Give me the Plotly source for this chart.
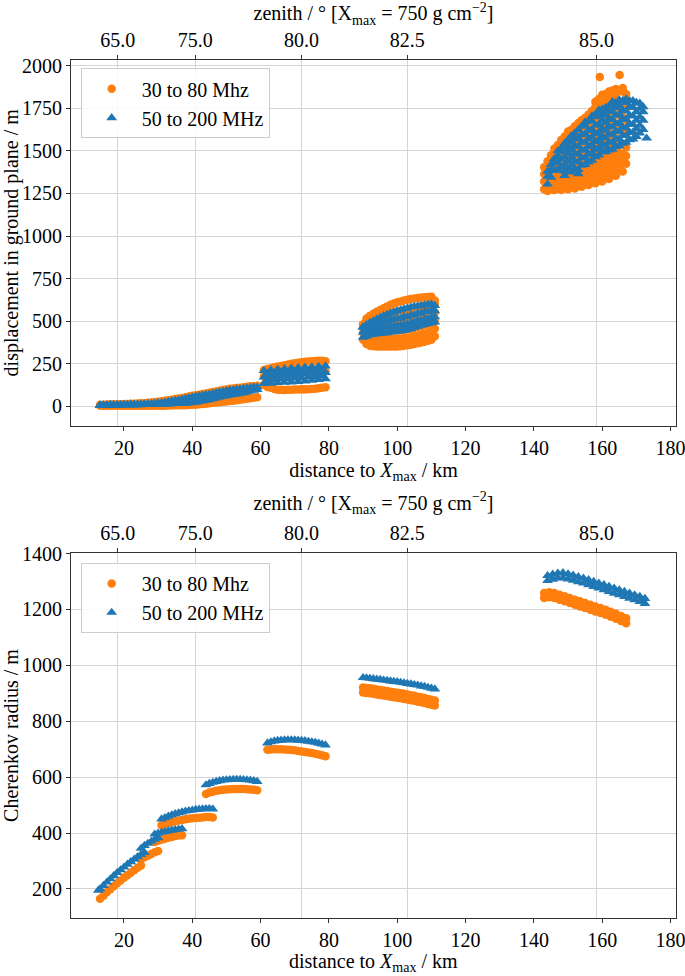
import plotly.graph_objects as go

# ---------------- axis tick data ----------------
zenith_tick_labels = ["65.0", "75.0", "80.0", "82.5", "85.0"]
zenith_tick_distance_km = [18.2, 40.9, 71.95, 102.9, 158.3]

# ================= TOP PANEL: displacement in ground plane =================
# cluster 1 (13-59 km)
disp_c1_x = [13, 15, 17, 19, 21, 23, 25, 27, 29, 31, 33, 35, 37, 39, 41, 43, 45, 47, 49, 51, 53, 55, 57, 59]
disp_c1_blue_lo = [3, 3, 4, 4, 5, 6, 7, 8, 9, 10, 12, 14, 15, 17, 22, 30, 37, 47, 57, 64, 70, 77, 87, 97]
disp_c1_blue_hi = [6, 6, 7, 8, 9, 10, 11, 13, 16, 20, 26, 33, 40, 48, 56, 63, 70, 78, 86, 93, 98, 103, 108, 111]
disp_c1_orange_lo = [2, 2, 2, 2, 2, 2, 2, 2, 2, 2, 3, 4, 5, 6, 8, 12, 17, 21, 25, 29, 34, 40, 46, 52]
disp_c1_orange_hi = [8, 9, 10, 11, 12, 14, 16, 19, 23, 28, 34, 41, 48, 56, 64, 71, 78, 86, 94, 101, 106, 111, 116, 119]
disp_c1_x_b = [14, 16, 18, 20, 22, 24, 26, 28, 30, 32, 34, 36, 38, 40, 42, 44, 46, 48, 50, 52, 54, 56, 58]
disp_c1_blue_lo_b = [3, 4, 4, 5, 6, 7, 8, 8, 10, 11, 13, 14, 16, 20, 26, 34, 42, 52, 60, 67, 74, 82, 92]
disp_c1_blue_hi_b = [6, 7, 8, 9, 10, 11, 12, 14, 18, 23, 29, 36, 44, 52, 60, 67, 74, 82, 90, 96, 100, 106, 110]
disp_c1_orange_lo_b = [2, 2, 2, 2, 2, 2, 2, 2, 2, 2, 3, 4, 5, 7, 10, 14, 19, 23, 27, 31, 37, 43, 49]
disp_c1_orange_hi_b = [8, 10, 10, 12, 13, 15, 17, 21, 25, 31, 37, 44, 52, 60, 67, 74, 82, 90, 97, 103, 108, 113, 117]

# cluster 2 (61-79 km)
disp_c2_x = [61, 63, 65, 67, 69, 71, 73, 75, 77, 79]
disp_c2_blue_lo = [132, 134, 137, 139, 141, 144, 147, 151, 155, 160]
disp_c2_blue_mid = [170, 174, 177, 180, 183, 186, 189, 192, 195, 197]
disp_c2_blue_hi = [208, 212, 216, 219, 222, 225, 228, 230, 233, 235]
disp_c2_orange_lo = [125, 108, 96, 95, 96, 97, 98, 100, 104, 110]
disp_c2_orange_mid = [175, 180, 185, 188, 190, 195, 198, 200, 203, 205]
disp_c2_orange_hi = [212, 222, 232, 240, 248, 255, 260, 264, 266, 264]
disp_c2_x_b = [62, 64, 66, 68, 70, 72, 74, 76, 78]
disp_c2_blue_lo_b = [151, 155, 158, 161, 164, 167, 170, 173, 177]
disp_c2_blue_hi_b = [189, 193, 197, 200, 203, 206, 209, 212, 215]
disp_c2_orange_lo_b = [112, 100, 96, 96, 97, 98, 99, 102, 107]
disp_c2_orange_hi_b = [218, 228, 236, 244, 252, 258, 262, 265, 266]

# cluster 3 (90-111 km)
disp_c3_x = [90, 92, 94, 96, 98, 100, 102, 104, 106, 108, 110, 111]
disp_c3_blue_r1 = [404, 419, 424, 429, 434, 439, 444, 454, 469, 479, 489, 494]
disp_c3_blue_r2 = [435, 450, 455, 462, 468, 472, 478, 488, 500, 510, 520, 525]
disp_c3_blue_r3 = [462, 480, 488, 500, 505, 515, 525, 535, 545, 555, 560, 560]
disp_c3_blue_r4 = [466, 491, 511, 531, 546, 560, 571, 581, 588, 594, 600, 591]
disp_c3_orange_r1 = [390, 355, 350, 350, 350, 350, 355, 360, 370, 378, 390, 410]
disp_c3_orange_r2 = [430, 400, 395, 395, 395, 395, 400, 405, 415, 425, 435, 455]
disp_c3_orange_r3 = [465, 445, 440, 440, 445, 445, 450, 455, 465, 475, 485, 500]
disp_c3_orange_r4 = [480, 490, 490, 490, 495, 500, 505, 510, 520, 530, 540, 550]
disp_c3_orange_r5 = [480, 530, 535, 540, 545, 555, 560, 570, 580, 590, 600, 600]
disp_c3_orange_r6 = [480, 530, 555, 575, 595, 610, 620, 630, 635, 640, 642, 620]
disp_c3_x_b = [91, 93, 95, 97, 99, 101, 103, 105, 107, 109]
disp_c3_blue_r1_b = [410, 421, 426, 431, 436, 441, 449, 461, 474, 484]
disp_c3_blue_r2_b = [440, 452, 458, 465, 470, 475, 483, 494, 505, 515]
disp_c3_blue_r3_b = [470, 485, 495, 500, 510, 515, 525, 535, 545, 555]
disp_c3_blue_r4_b = [478, 500, 520, 538, 553, 565, 576, 585, 591, 597]
disp_c3_orange_r1_b = [365, 352, 350, 350, 350, 352, 357, 365, 374, 384]
disp_c3_orange_r2_b = [410, 397, 395, 395, 395, 397, 402, 410, 420, 430]
disp_c3_orange_r3_b = [450, 442, 440, 442, 445, 447, 452, 460, 470, 480]
disp_c3_orange_r4_b = [488, 490, 490, 492, 498, 502, 508, 515, 525, 535]
disp_c3_orange_r5_b = [500, 532, 538, 543, 550, 558, 565, 575, 585, 595]
disp_c3_orange_r6_b = [515, 543, 565, 585, 603, 615, 625, 633, 638, 641]

# cluster 4 (143-173 km), (distance km, displacement m)
disp_c4_blue = [
    (144, 1305), (144, 1350), (144, 1380),
    (146, 1385), (146, 1430), (146, 1455),
    (148, 1405), (148, 1450), (148, 1495), (148, 1515), (149, 1355),
    (150, 1395), (150, 1440), (150, 1485), (150, 1525), (150, 1565),
    (152, 1395), (152, 1440), (152, 1485), (152, 1530), (152, 1570), (152, 1605), (153, 1365),
    (154, 1415), (154, 1460), (154, 1505), (154, 1550), (154, 1595), (154, 1645),
    (156, 1435), (156, 1480), (156, 1525), (156, 1570), (156, 1620), (156, 1675),
    (158, 1465), (158, 1510), (158, 1555), (158, 1600), (158, 1650), (158, 1700), (158, 1715),
    (160, 1495), (160, 1540), (160, 1585), (160, 1630), (160, 1680), (160, 1720), (160, 1745),
    (162, 1505), (162, 1550), (162, 1600), (162, 1645), (162, 1690), (162, 1735), (162, 1765),
    (164, 1525), (164, 1570), (164, 1615), (164, 1660), (164, 1710), (164, 1755), (164, 1785),
    (166, 1545), (166, 1590), (166, 1640), (166, 1690), (166, 1740), (166, 1795),
    (168, 1565), (168, 1610), (168, 1660), (168, 1710), (168, 1760), (168, 1795),
    (170, 1585), (170, 1630), (170, 1680), (170, 1730), (170, 1785),
    (172, 1625), (172, 1680), (172, 1730), (172, 1760),
    (173, 1575),
]
disp_c4_blue_b = [
    (145, 1345), (145, 1390), (145, 1420),
    (147, 1390), (147, 1430), (147, 1470), (147, 1500),
    (149, 1380), (149, 1420), (149, 1465), (149, 1510), (149, 1545),
    (151, 1375), (151, 1415), (151, 1460), (151, 1505), (151, 1550), (151, 1590),
    (153, 1390), (153, 1435), (153, 1480), (153, 1525), (153, 1575), (153, 1625),
    (155, 1420), (155, 1460), (155, 1505), (155, 1550), (155, 1600), (155, 1650), (155, 1670),
    (157, 1445), (157, 1490), (157, 1535), (157, 1580), (157, 1625), (157, 1675), (157, 1705),
    (159, 1475), (159, 1520), (159, 1565), (159, 1610), (159, 1655), (159, 1705), (159, 1740),
    (161, 1495), (161, 1530), (161, 1575), (161, 1620), (161, 1665), (161, 1710), (161, 1755),
    (163, 1510), (163, 1550), (163, 1595), (163, 1640), (163, 1685), (163, 1730), (163, 1775), (163, 1790),
    (165, 1530), (165, 1570), (165, 1615), (165, 1665), (165, 1715), (165, 1765), (165, 1800),
    (167, 1550), (167, 1590), (167, 1635), (167, 1685), (167, 1735), (167, 1785), (167, 1805),
    (169, 1570), (169, 1610), (169, 1655), (169, 1705), (169, 1755), (169, 1795),
    (171, 1605), (171, 1650), (171, 1700), (171, 1750), (171, 1780),
]
disp_c4_orange = [
    (143, 1275), (143, 1320), (143, 1365), (143, 1405),
    (145, 1275), (145, 1320), (145, 1365), (145, 1410), (145, 1455), (145, 1475),
    (147, 1280), (147, 1325), (147, 1370), (147, 1420), (147, 1470), (147, 1510), (147, 1535),
    (149, 1285), (149, 1330), (149, 1375), (149, 1420), (149, 1470), (149, 1520), (149, 1565), (149, 1585),
    (151, 1290), (151, 1335), (151, 1380), (151, 1430), (151, 1480), (151, 1530), (151, 1580), (151, 1625),
    (153, 1295), (153, 1340), (153, 1385), (153, 1440), (153, 1500), (153, 1560), (153, 1620), (153, 1665),
    (155, 1305), (155, 1350), (155, 1395), (155, 1450), (155, 1520), (155, 1590), (155, 1650), (155, 1695),
    (157, 1315), (157, 1360), (157, 1405), (157, 1460), (157, 1540), (157, 1620), (157, 1690), (157, 1735),
    (159, 1325), (159, 1370), (159, 1420), (159, 1480), (159, 1560), (159, 1640), (159, 1720), (159, 1780),
    (159, 1805), (159.3, 1935),
    (161, 1345), (161, 1390), (161, 1440), (161, 1500), (161, 1580), (161, 1660), (161, 1740), (161, 1800), (161, 1835),
    (163, 1365), (163, 1410), (163, 1460), (163, 1520), (163, 1600), (163, 1680), (163, 1760), (163, 1820), (163, 1855),
    (165, 1395), (165, 1440), (165, 1490), (165, 1550), (165, 1630), (165, 1710), (165, 1790), (165, 1855), (165.1, 1947),
    (167, 1425), (167, 1470), (167, 1520), (167, 1600), (167, 1680), (167, 1760), (167, 1835),
]
disp_c4_orange_b = [
    (144, 1265), (144, 1300), (144, 1345), (144, 1390), (144, 1440),
    (146, 1270), (146, 1305), (146, 1350), (146, 1395), (146, 1440), (146, 1490), (146, 1515),
    (148, 1270), (148, 1305), (148, 1350), (148, 1395), (148, 1445), (148, 1495), (148, 1545), (148, 1565),
    (150, 1275), (150, 1310), (150, 1355), (150, 1400), (150, 1450), (150, 1500), (150, 1550), (150, 1600), (150, 1615),
    (152, 1280), (152, 1315), (152, 1360), (152, 1410), (152, 1460), (152, 1530), (152, 1600), (152, 1645),
    (154, 1290), (154, 1325), (154, 1370), (154, 1420), (154, 1480), (154, 1560), (154, 1640), (154, 1680),
    (156, 1300), (156, 1335), (156, 1380), (156, 1430), (156, 1500), (156, 1580), (156, 1660), (156, 1715),
    (158, 1310), (158, 1345), (158, 1390), (158, 1440), (158, 1520), (158, 1600), (158, 1690), (158, 1760), (158, 1790),
    (160, 1320), (160, 1360), (160, 1405), (160, 1460), (160, 1540), (160, 1620), (160, 1700), (160, 1780), (160, 1830),
    (162, 1335), (162, 1380), (162, 1425), (162, 1480), (162, 1560), (162, 1640), (162, 1720), (162, 1800), (162, 1850),
    (164, 1355), (164, 1400), (164, 1450), (164, 1500), (164, 1580), (164, 1660), (164, 1740), (164, 1820), (164, 1865),
    (166, 1380), (166, 1430), (166, 1480), (166, 1540), (166, 1620), (166, 1700), (166, 1780), (166, 1850), (166, 1870),
]

# ================= BOTTOM PANEL: Cherenkov radius =================
cher_a_orange_x = [13, 14, 15, 16, 17, 18, 19, 20, 21, 22, 23, 24, 25]
cher_a_orange_y = [165, 176, 188, 199, 210, 220, 230, 240, 249, 258, 267, 276, 284]
cher_b_orange_x = [25, 26, 27, 28, 29, 30]
cher_b_orange_y = [306, 313, 319, 325, 331, 336]
cher_c_orange_x = [29, 30, 31, 32, 33, 34, 35, 36, 37]
cher_c_orange_y = [368, 372, 376, 380, 383, 386, 389, 391, 392]
cher_d_orange_x = [31, 32, 33, 34, 35, 36, 37, 38, 39, 40, 41, 42, 43, 44, 45, 46]
cher_d_orange_y = [428, 432, 436, 439, 442, 445, 447, 449, 451, 453, 454, 455, 456, 457, 457, 456]
cher_e_orange_x = [44, 45, 46, 47, 48, 49, 50, 51, 52, 53, 54, 55, 56, 57, 58, 59]
cher_e_orange_y = [540, 545, 548, 551, 553, 555, 556, 557, 558, 558, 558, 558, 557, 556, 555, 553]
cher_f_orange_x = [62, 63, 64, 65, 66, 67, 68, 69, 70, 71, 72, 73, 74, 75, 76, 77, 78, 79]
cher_f_orange_y = [698, 699, 700, 700, 700, 699, 698, 697, 696, 694, 692, 690, 688, 686, 684, 681, 678, 675]
cher_g_x = [90, 91, 92, 93, 94, 95, 96, 97, 98, 99, 100, 101, 102, 103, 104, 105, 106, 107, 108, 109, 110, 111]
cher_g_orange_hi = [921, 919, 918, 916, 914, 912, 910, 908, 906, 904, 902, 900, 898, 896, 893, 891, 888, 886, 883, 880, 877, 874]
cher_g_orange_lo = [903, 901, 900, 898, 896, 894, 892, 890, 888, 886, 884, 882, 880, 878, 875, 873, 870, 868, 865, 862, 859, 856]
cher_h_orange_x = [143, 144.5, 146, 147.5, 149, 150.5, 152, 153.5, 155, 156.5, 158, 159.5, 161, 162.5, 164, 165.5, 167]
cher_h_orange_hi = [1259, 1262, 1259, 1253, 1247, 1241, 1235, 1229, 1223, 1217, 1211, 1205, 1199, 1192, 1185, 1177, 1169]
cher_h_orange_lo = [1241, 1244, 1241, 1235, 1229, 1223, 1217, 1211, 1205, 1199, 1193, 1187, 1181, 1174, 1167, 1159, 1151]

cher_a_blue_x = [12.5, 13, 14, 15, 16, 17, 18, 19, 20, 21, 22, 23, 24, 25, 26]
cher_a_blue_y = [195, 200, 212, 224, 236, 247, 258, 268, 278, 288, 297, 306, 315, 323, 330]
cher_b_blue_x = [25, 26, 27, 28, 29, 30]
cher_b_blue_y = [345, 355, 363, 370, 377, 383]
cher_c_blue_x = [29, 30, 31, 32, 33, 34, 35, 36, 37]
cher_c_blue_y = [396, 399, 402, 405, 408, 410, 412, 414, 415]
cher_d_blue_x = [31, 32, 33, 34, 35, 36, 37, 38, 39, 40, 41, 42, 43, 44, 45, 46]
cher_d_blue_y = [450, 455, 460, 465, 469, 472, 475, 478, 480, 482, 484, 485, 486, 487, 487, 486]
cher_e_blue_x = [44, 45, 46, 47, 48, 49, 50, 51, 52, 53, 54, 55, 56, 57, 58, 59]
cher_e_blue_y = [572, 577, 581, 584, 587, 589, 590, 591, 592, 592, 592, 591, 590, 589, 587, 584]
cher_f_blue_x = [62, 63, 64, 65, 66, 67, 68, 69, 70, 71, 72, 73, 74, 75, 76, 77, 78, 79]
cher_f_blue_y = [722, 726, 729, 731, 732, 733, 733, 733, 733, 732, 731, 730, 728, 726, 724, 721, 718, 715]
cher_g_blue_y = [956, 955, 953, 952, 950, 949, 947, 946, 944, 942, 941, 939, 937, 935, 933, 931, 929, 926, 924, 921, 918, 915]
cher_h_blue_x = [144, 145.5, 147, 148.5, 150, 151.5, 153, 154.5, 156, 157.5, 159, 160.5, 162, 163.5, 165, 166.5, 168, 169.5, 171, 172.5]
cher_h_blue_hi = [1321, 1326, 1330, 1331, 1327, 1322, 1317, 1312, 1306, 1300, 1294, 1288, 1282, 1276, 1270, 1264, 1258, 1252, 1246, 1239]
cher_h_blue_lo = [1303, 1308, 1312, 1313, 1309, 1304, 1299, 1294, 1288, 1282, 1276, 1270, 1264, 1258, 1252, 1246, 1240, 1234, 1228, 1221]

# ---------------- assemble ----------------
def rows(x, *ys):
    xs, yy = [], []
    for r in ys:
        xs += list(x)
        yy += list(r)
    return xs, yy

def pairs(p):
    return [a for a, _ in p], [b for _, b in p]

def collect(parts):
    xs, ys = [], []
    for x, y in parts:
        xs += x
        ys += y
    return xs, ys

top_orange_x, top_orange_y = collect([
    rows(disp_c1_x, disp_c1_orange_lo, disp_c1_orange_hi),
    rows(disp_c1_x_b, disp_c1_orange_lo_b, disp_c1_orange_hi_b),
    rows(disp_c2_x, disp_c2_orange_lo, disp_c2_orange_mid, disp_c2_orange_hi),
    rows(disp_c2_x_b, disp_c2_orange_lo_b, disp_c2_orange_hi_b),
    rows(disp_c3_x, disp_c3_orange_r1, disp_c3_orange_r2, disp_c3_orange_r3,
         disp_c3_orange_r4, disp_c3_orange_r5, disp_c3_orange_r6),
    rows(disp_c3_x_b, disp_c3_orange_r1_b, disp_c3_orange_r2_b, disp_c3_orange_r3_b,
         disp_c3_orange_r4_b, disp_c3_orange_r5_b, disp_c3_orange_r6_b),
    pairs(disp_c4_orange), pairs(disp_c4_orange_b)])

top_blue_x, top_blue_y = collect([
    rows(disp_c1_x, disp_c1_blue_lo, disp_c1_blue_hi),
    rows(disp_c1_x_b, disp_c1_blue_lo_b, disp_c1_blue_hi_b),
    rows(disp_c2_x, disp_c2_blue_lo, disp_c2_blue_mid, disp_c2_blue_hi),
    rows(disp_c2_x_b, disp_c2_blue_lo_b, disp_c2_blue_hi_b),
    rows(disp_c3_x, disp_c3_blue_r1, disp_c3_blue_r2, disp_c3_blue_r3, disp_c3_blue_r4),
    rows(disp_c3_x_b, disp_c3_blue_r1_b, disp_c3_blue_r2_b, disp_c3_blue_r3_b, disp_c3_blue_r4_b),
    pairs(disp_c4_blue), pairs(disp_c4_blue_b)])

bot_orange_x, bot_orange_y = collect([
    rows(cher_a_orange_x, cher_a_orange_y), rows(cher_b_orange_x, cher_b_orange_y),
    rows(cher_c_orange_x, cher_c_orange_y), rows(cher_d_orange_x, cher_d_orange_y),
    rows(cher_e_orange_x, cher_e_orange_y), rows(cher_f_orange_x, cher_f_orange_y),
    rows(cher_g_x, cher_g_orange_hi, cher_g_orange_lo),
    rows(cher_h_orange_x, cher_h_orange_hi, cher_h_orange_lo)])

bot_blue_x, bot_blue_y = collect([
    rows(cher_a_blue_x, cher_a_blue_y), rows(cher_b_blue_x, cher_b_blue_y),
    rows(cher_c_blue_x, cher_c_blue_y), rows(cher_d_blue_x, cher_d_blue_y),
    rows(cher_e_blue_x, cher_e_blue_y), rows(cher_f_blue_x, cher_f_blue_y),
    rows(cher_g_x, cher_g_blue_y),
    rows(cher_h_blue_x, cher_h_blue_hi, cher_h_blue_lo)])

ORANGE = "#ff7f0e"
BLUE = "#1f77b4"
FONT = "Liberation Serif"
FS = 20
GRID = "#d4d4d4"
LINE = "#333333"
DIST_TITLE = "distance to <i>X</i><sub>max</sub> / km"

fig = go.Figure()
fig.add_trace(go.Scatter(x=top_orange_x, y=top_orange_y, mode="markers", name="30 to 80 Mhz",
                         marker=dict(symbol="circle", size=8.5, color=ORANGE, line=dict(width=0)),
                         xaxis="x", yaxis="y", legend="legend"))
fig.add_trace(go.Scatter(x=top_blue_x, y=top_blue_y, mode="markers", name="50 to 200 MHz",
                         marker=dict(symbol="triangle-up", size=9.5, color=BLUE, line=dict(width=0)),
                         xaxis="x", yaxis="y", legend="legend"))
fig.add_trace(go.Scatter(x=bot_orange_x, y=bot_orange_y, mode="markers", name="30 to 80 Mhz",
                         marker=dict(symbol="circle", size=8.5, color=ORANGE, line=dict(width=0)),
                         xaxis="x3", yaxis="y2", legend="legend2"))
fig.add_trace(go.Scatter(x=bot_blue_x, y=bot_blue_y, mode="markers", name="50 to 200 MHz",
                         marker=dict(symbol="triangle-up", size=9.5, color=BLUE, line=dict(width=0)),
                         xaxis="x3", yaxis="y2", legend="legend2"))
# make the overlaying top axes render
fig.add_trace(go.Scatter(x=[None], y=[None], xaxis="x2", yaxis="y", showlegend=False, hoverinfo="skip"))
fig.add_trace(go.Scatter(x=[None], y=[None], xaxis="x4", yaxis="y2", showlegend=False, hoverinfo="skip"))

XR = [4.5, 181.6]

def xbottom(title_text):
    return dict(range=XR, dtick=20, tick0=0, showgrid=False, zeroline=False, ticks="outside",
                ticklen=4, tickcolor=LINE, showline=True, linecolor=LINE, linewidth=1,
                tickfont=dict(size=FS), automargin=False, ticklabeloverflow="allow",
                title=dict(text=title_text, standoff=4, font=dict(size=FS)))

xtop = dict(range=XR, tickmode="array", tickvals=zenith_tick_distance_km, ticktext=zenith_tick_labels,
            side="top", showgrid=True, gridcolor=GRID, gridwidth=1, zeroline=False, ticks="outside",
            ticklen=4, tickcolor=LINE, showline=True, linecolor=LINE, linewidth=1,
            tickfont=dict(size=FS), automargin=False, ticklabeloverflow="allow",
            title=dict(text="zenith / ° [X<sub>max</sub> = 750 g cm<sup>−2</sup>]", standoff=6,
                       font=dict(size=FS)))
yax = dict(showgrid=True, gridcolor=GRID, gridwidth=1, zeroline=False, ticks="outside", ticklen=4,
           tickcolor=LINE, showline=True, linecolor=LINE, linewidth=1, mirror=True,
           tickfont=dict(size=FS), automargin=False)

legend_style = dict(bgcolor="rgba(255,255,255,0.85)", bordercolor="#cccccc", borderwidth=1,
                    font=dict(size=FS, family=FONT), xanchor="left", yanchor="top",
                    itemwidth=50, tracegroupgap=0)

fig.update_layout(
    template="none",
    width=685, height=976,
    paper_bgcolor="white", plot_bgcolor="white",
    font=dict(family=FONT, size=FS, color="black"),
    margin=dict(l=71, r=9, t=60, b=58),
    showlegend=True,
    xaxis=dict(domain=[0, 1], anchor="y", **xbottom(DIST_TITLE)),
    xaxis2=dict(overlaying="x", anchor="y", **xtop),
    yaxis=dict(domain=[0.5739, 1], anchor="x", range=[-115, 2035], dtick=250, tick0=0,
               title=dict(text="displacement in ground plane / m", standoff=6, font=dict(size=FS)), **yax),
    xaxis3=dict(domain=[0, 1], anchor="y2", **xbottom("")),
    xaxis4=dict(overlaying="x3", anchor="y2", **xtop),
    yaxis2=dict(domain=[0, 0.4254], anchor="x3", range=[96, 1402], dtick=200, tick0=0,
                title=dict(text="Cherenkov radius / m", standoff=6, font=dict(size=FS)), **yax),
    legend=dict(x=0.016, y=0.9903, **legend_style),
    legend2=dict(x=0.016, y=0.4138, **legend_style),
    annotations=[dict(text=DIST_TITLE, xref="paper", yref="paper", x=0.5, y=-0.0524,
                      xanchor="center", yanchor="middle", showarrow=False,
                      font=dict(size=FS, family=FONT, color="black"))],
)

fig.write_html("out.html", post_script="document.body.style.margin='0px';",
               config={"displayModeBar": False})
